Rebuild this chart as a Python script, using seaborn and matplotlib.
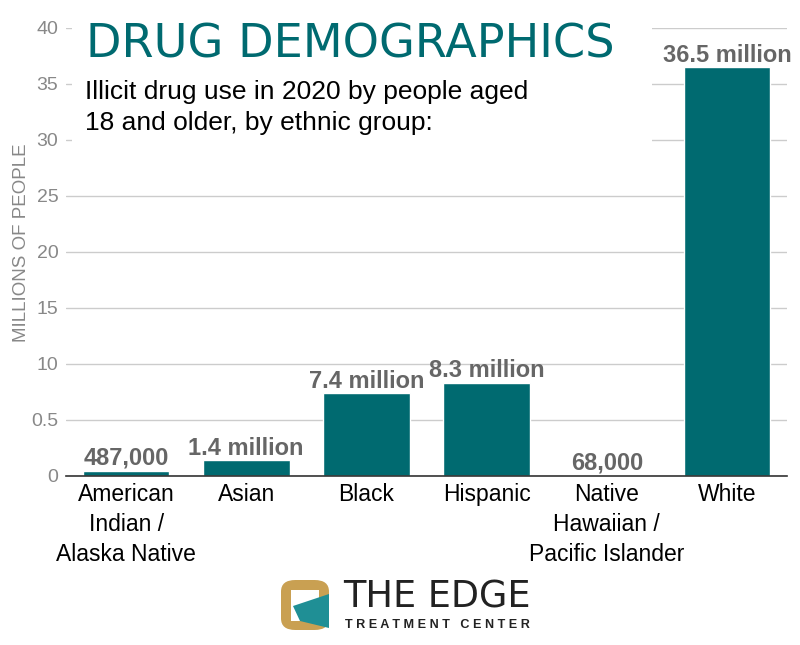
import matplotlib
matplotlib.use("Agg")
import matplotlib.pyplot as plt
from matplotlib.patches import Rectangle, Polygon, FancyBboxPatch
import seaborn as sns
import pandas as pd

# data
groups = ["American\nIndian /\nAlaska Native", "Asian", "Black", "Hispanic",
          "Native\nHawaiian /\nPacific Islander", "White"]
users_millions = [0.487, 1.4, 7.4, 8.3, 0.068, 36.5]
bar_labels = ["487,000", "1.4 million", "7.4 million", "8.3 million", "68,000", "36.5 million"]
y_ticks = [0, 5, 10, 15, 20, 25, 30, 35, 40]
y_tick_labels = ["0", "0.5", "10", "15", "20", "25", "30", "35", "40"]

TEAL = "#006a70"
GRID = "#cccccc"
TICK_GREY = "#888888"
LABEL_GREY = "#666666"

sns.set_theme(style="white")
plt.rcParams["font.family"] = ["Liberation Sans", "DejaVu Sans"]

df = pd.DataFrame({"group": groups, "users": users_millions})

W, H = 800, 645


def fx(px):
    return px / W


def fy(py):
    return 1 - py / H


def fit_width(fig, txt, target_px):
    # scale a text so that it spans target_px pixels
    fig.canvas.draw()
    bb = txt.get_window_extent()
    txt.set_fontsize(txt.get_fontsize() * target_px / bb.width)


fig = plt.figure(figsize=(8, 6.45), dpi=100)
ax = fig.add_axes([fx(66), fy(476), (787 - 66) / W, (476 - 28) / H])

sns.barplot(data=df, x="group", y="users", color=TEAL, width=0.72,
            saturation=1, ax=ax, zorder=3)

ax.set_xlim(-0.5, 5.5)
ax.set_ylim(0, 40)
ax.set_yticks(y_ticks)
ax.set_yticklabels(y_tick_labels, color=TICK_GREY, fontsize=14)
ax.tick_params(axis="y", length=0, pad=5.5)
ax.tick_params(axis="x", length=0, pad=5, labelsize=16.5, labelcolor="black")
for lbl in ax.get_xticklabels():
    lbl.set_linespacing(1.4)
ax.yaxis.grid(True, color=GRID, linewidth=1, zorder=0)
ax.set_axisbelow(True)
for side in ["top", "right", "left"]:
    ax.spines[side].set_visible(False)
ax.spines["bottom"].set_color("#333333")
ax.spines["bottom"].set_linewidth(1.2)
ax.spines["bottom"].set_zorder(4)
ax.set_xlabel("")
ax.set_ylabel("MILLIONS OF PEOPLE", color=TICK_GREY, fontsize=13.5)
ax.yaxis.set_label_coords(-0.05, 0.52)

# value labels above bars
for i, (v, txt) in enumerate(zip(users_millions, bar_labels)):
    ax.annotate(txt, (i, v), xytext=(0, 4), textcoords="offset points",
                ha="center", va="baseline", fontsize=17, fontweight="bold",
                color=LABEL_GREY, zorder=5)

# white panel behind the heading hides the top gridlines
fig.add_artist(Rectangle((fx(72), fy(146)), (652 - 72) / W, 131 / H,
                         transform=fig.transFigure, facecolor="white",
                         edgecolor="none", zorder=1))

title = fig.text(fx(86), fy(58), "DRUG DEMOGRAPHICS", color=TEAL,
                 fontsize=31, family=["DejaVu Sans"], va="baseline", zorder=2)
sub1 = fig.text(fx(85), fy(99), "Illicit drug use in 2020 by people aged",
                color="black", fontsize=19, va="baseline", zorder=2)
fig.text(fx(85), fy(130), "18 and older, by ethnic group:",
         color="black", fontsize=sub1.get_fontsize(), va="baseline", zorder=2)

fit_width(fig, title, 615 - 86)

# logo
gold = "#c9a052"
fig.add_artist(FancyBboxPatch((fx(281), fy(630)), 48 / W, 50 / H,
                              boxstyle="round,pad=0,rounding_size=0.018",
                              transform=fig.transFigure, facecolor=gold, edgecolor="none"))
fig.add_artist(Rectangle((fx(291), fy(621)), 28 / W, 31 / H,
                         transform=fig.transFigure, facecolor="white", edgecolor="none"))
fig.add_artist(Polygon([(fx(293), fy(606)), (fx(329), fy(594)),
                        (fx(329), fy(628)), (fx(300), fy(621))],
                       closed=True, transform=fig.transFigure,
                       facecolor="#1f8f95", edgecolor="none"))
brand = fig.text(fx(343), fy(608), "THE EDGE", fontsize=26, color="#222222",
                 family=["DejaVu Sans"], va="baseline")
tag = fig.text(fx(345), fy(628), "T R E A T M E N T   C E N T E R", fontsize=9.5,
               fontweight="bold", color="#222222", va="baseline")
fit_width(fig, brand, 530 - 343)
fit_width(fig, tag, 530 - 345)

fig.savefig("out.png", dpi=100)
